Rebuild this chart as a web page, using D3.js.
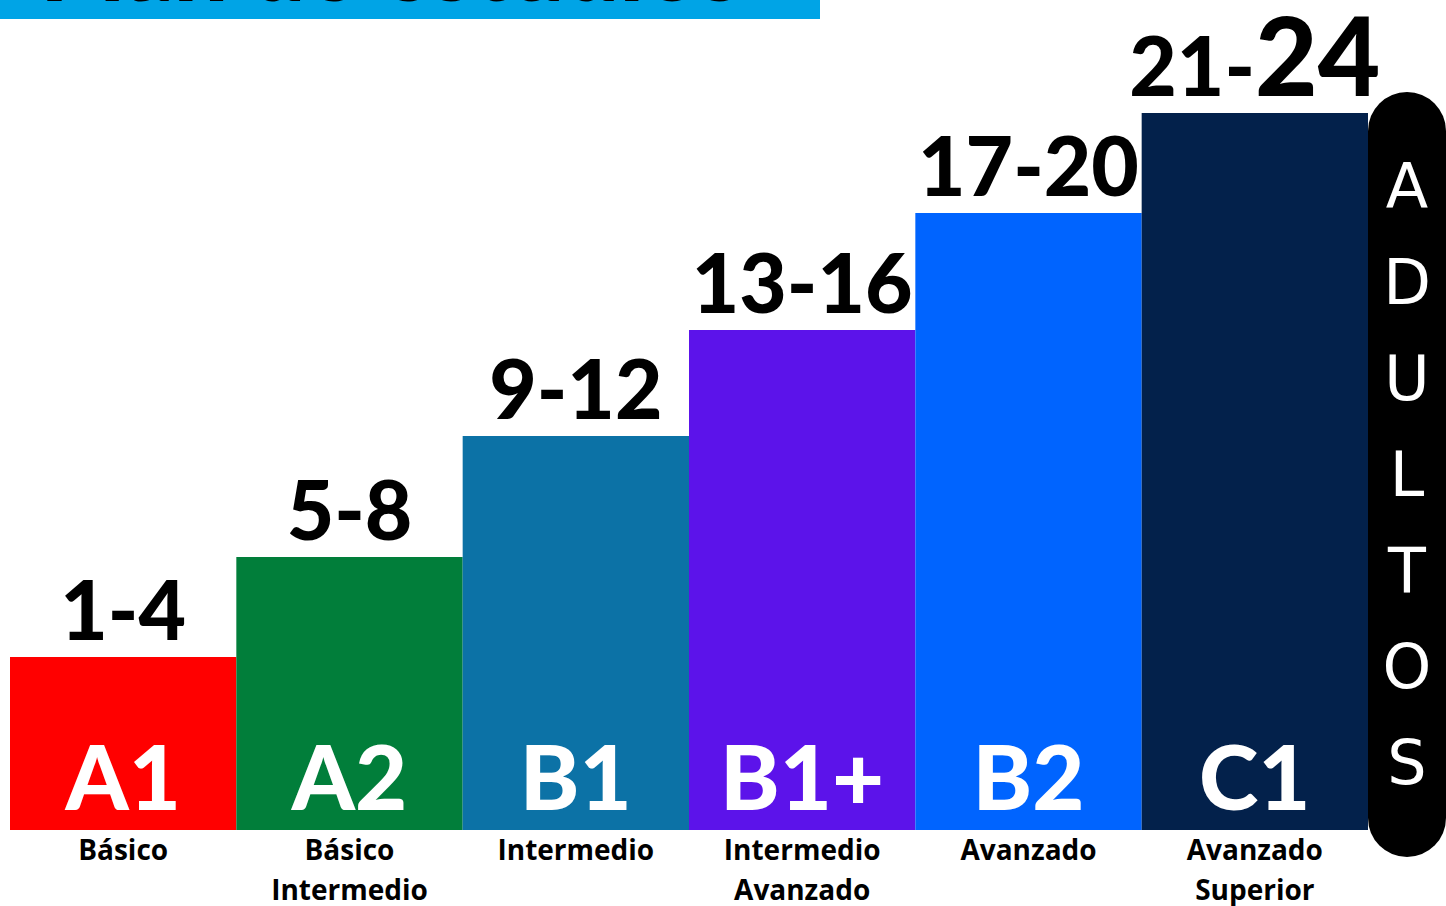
<!DOCTYPE html>
<html>
<head>
<meta charset="utf-8">
<script src="https://cdn.jsdelivr.net/npm/d3@7"></script>
<style>
  body { margin: 0; background: #fff; overflow: hidden; }
</style>
</head>
<body>
<div id="chart-area"></div>
<script>
// niveles del curso
const niveles = ["A1", "A2", "B1", "B1+", "B2", "C1"];
// clases (rango) que aparecen encima de cada barra
const rangos = ["1-4", "5-8", "9-12", "13-16", "17-20", "21-24"];
// altura relativa de cada escalón
const alturas = [1.73, 2.73, 3.94, 5.00, 6.17, 7.17];
// descripciones debajo de las barras
const descripciones = [
    ["Básico"],
    ["Básico", "Intermedio"],
    ["Intermedio"],
    ["Intermedio", "Avanzado"],
    ["Avanzado"],
    ["Avanzado", "Superior"]
];
const colores = ["#ff0000", "#017e3a", "#0c72a6", "#5c13ea", "#0064ff", "#03214b"];
const lateral = "ADULTOS";
const titulo = "Plan de estudios";

const width = 1446;
const height = 906;
const data = niveles.map((n, i) => ({
    nivel: n, rango: rangos[i], altura: alturas[i],
    desc: descripciones[i], color: colores[i]
}));

const svg = d3.select("#chart-area")
    .append("svg")
    .attr("width", width)
    .attr("height", height);

const margin = {left: 10, right: 78, bottom: 76, top: 113};
const baseY = height - margin.bottom;

// x scale
const x = d3.scaleBand()
    .domain(niveles)
    .range([margin.left, width - margin.right])
    .padding(0);

// y scale
const y = d3.scaleLinear()
    .domain([0, d3.max(alturas)])
    .range([baseY, margin.top]);

// banner del título (cortado arriba)
svg.append("rect")
    .attr("x", 0).attr("y", 0)
    .attr("width", 820).attr("height", 19)
    .attr("fill", "#00a4e6");
svg.append("text")
    .attr("x", 40).attr("y", 1)
    .attr("font-family", "Lato, 'Open Sans', sans-serif")
    .attr("font-weight", 900)
    .attr("font-size", 96)
    .attr("fill", "#000")
    .text(titulo);

// barras
svg.selectAll("rect.bar")
    .data(data)
    .enter()
    .append("rect")
    .attr("class", "bar")
    .attr("x", d => x(d.nivel))
    .attr("y", d => y(d.altura))
    .attr("width", x.bandwidth())
    .attr("height", d => baseY - y(d.altura))
    .attr("fill", d => d.color);

// rangos arriba
const rangoText = svg.selectAll("text.rango")
    .data(data)
    .enter()
    .append("text")
    .attr("class", "rango")
    .attr("x", d => x(d.nivel) + x.bandwidth() / 2)
    .attr("y", d => y(d.altura) - 17)
    .attr("text-anchor", "middle")
    .attr("font-family", "Lato, 'Open Sans', sans-serif")
    .attr("font-weight", 900)
    .attr("font-size", 82)
    .attr("fill", "#000");
rangoText.each(function(d, i) {
    const t = d3.select(this);
    if (i === data.length - 1) {
        const parts = d.rango.split("-");
        t.append("tspan").text(parts[0] + "-");
        t.append("tspan").attr("font-size", 108).text(parts[1]);
    } else {
        t.text(d.rango);
    }
});

// código del nivel dentro de la barra
svg.selectAll("text.nivel")
    .data(data)
    .enter()
    .append("text")
    .attr("class", "nivel")
    .attr("x", d => x(d.nivel) + x.bandwidth() / 2)
    .attr("y", baseY - 20)
    .attr("text-anchor", "middle")
    .attr("font-family", "Lato, 'Open Sans', sans-serif")
    .attr("font-weight", 900)
    .attr("font-size", 90)
    .attr("fill", "#fff")
    .text(d => d.nivel);

// descripciones
const desc = svg.selectAll("text.desc")
    .data(data)
    .enter()
    .append("text")
    .attr("class", "desc")
    .attr("text-anchor", "middle")
    .attr("font-family", "'Open Sans', sans-serif")
    .attr("font-weight", 700)
    .attr("font-size", 28)
    .attr("fill", "#000");
desc.selectAll("tspan")
    .data(d => d.desc.map(s => ({s, cx: x(d.nivel) + x.bandwidth() / 2})))
    .enter()
    .append("tspan")
    .attr("x", d => d.cx)
    .attr("y", (d, i) => baseY + 30 + i * 40)
    .text(d => d.s);

// pastilla lateral ADULTOS
const pillX = width - margin.right;
svg.append("rect")
    .attr("x", pillX).attr("y", 92)
    .attr("width", 78).attr("height", 765)
    .attr("rx", 39)
    .attr("fill", "#000");
svg.selectAll("text.lat")
    .data(lateral.split(""))
    .enter()
    .append("text")
    .attr("class", "lat")
    .attr("x", pillX + 39)
    .attr("y", (d, i) => 208 + i * 96)
    .attr("text-anchor", "middle")
    .attr("font-family", "'DejaVu Sans', sans-serif")
    .attr("font-weight", 400)
    .attr("font-size", 62)
    .attr("fill", "#fff")
    .text(d => d);
</script>
</body>
</html>
